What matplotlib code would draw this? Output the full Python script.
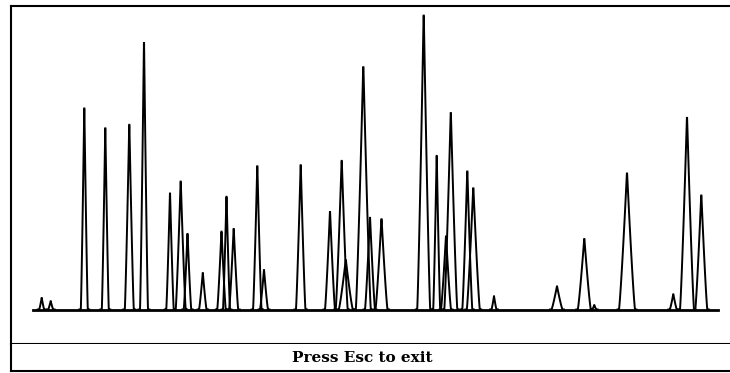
import numpy as np
import matplotlib
matplotlib.use("Agg")
import matplotlib.pyplot as plt

# peak table: scan position, peak height, base width (scans)
peak_pos = [31.2, 40.2, 73.8, 94.8, 118.8, 133.5, 159.5, 170.2, 177.0, 192.3,
            211.0, 216.0, 223.2, 246.8, 253.5, 290.2, 319.5, 331.2, 335.3, 352.8,
            359.5, 371.0, 413.2, 426.2, 435.5, 440.3, 456.8, 462.8, 483.5, 546.5,
            573.8, 583.8, 616.5, 662.8, 676.5, 690.8]
peak_height = [11.8, 8.5, 205.5, 185.2, 188.5, 272.2, 118.5, 130.5, 77.2, 37.2,
               79.5, 115.2, 82.2, 146.2, 40.2, 147.2, 99.5, 151.5, 50.2, 246.8,
               93.5, 92.0, 299.5, 157.0, 74.5, 200.2, 140.8, 123.5, 13.5, 23.5,
               71.8, 4.5, 138.5, 15.5, 195.2, 116.2]
peak_width = [5, 5, 7, 7, 9, 8, 7.5, 10, 7.5, 7.5,
              8.5, 7, 9, 8.5, 8, 9.5, 10, 12, 14, 15,
              10, 12, 13, 7, 10, 13, 10, 13, 5, 11,
              13, 4, 16, 7, 14, 12]
baseline_start, baseline_end = 22.5, 707.5

fig = plt.figure(figsize=(7.3, 3.73), dpi=100)
fig.patch.set_linewidth(0)
W, H = 730, 373
span = W - 10.5 + 60  # panels run off the right edge, no right border

# chromatogram panel
ax = fig.add_axes([10.5 / W, 1 - 344 / H, span / W, (344 - 6.5) / H])
ax.set_xlim(0, span)
ax.set_ylim(-34.5, 303)

ax.plot([baseline_start, baseline_end], [0, 0], color="black", lw=2.0)
for c, h, w in zip(peak_pos, peak_height, peak_width):
    x = np.linspace(c - w / 2 - 1.5, c + w / 2 + 1.5, 80)
    d = np.abs(x - c) / (w / 2)
    y = h * np.clip(1 - d, 0, None) ** 1.2
    ax.plot(x, y, color="black", lw=1.4, solid_joinstyle="miter")

ax.set_xticks([])
ax.set_yticks([])
ax.spines["right"].set_visible(False)
for s in ("left", "top", "bottom"):
    ax.spines[s].set_linewidth(1.5)

# status bar
bar = fig.add_axes([10.5 / W, 1 - 371 / H, span / W, (371 - 344) / H])
bar.set_xticks([])
bar.set_yticks([])
bar.spines["right"].set_visible(False)
bar.spines["top"].set_visible(False)
for s in ("left", "bottom"):
    bar.spines[s].set_linewidth(1.5)
fig.text(362 / W, 1 - 357.5 / H, "Press Esc to exit", ha="center", va="center",
         fontsize=11, family="DejaVu Serif", fontweight="bold")

fig.savefig("out.png", dpi=100)
